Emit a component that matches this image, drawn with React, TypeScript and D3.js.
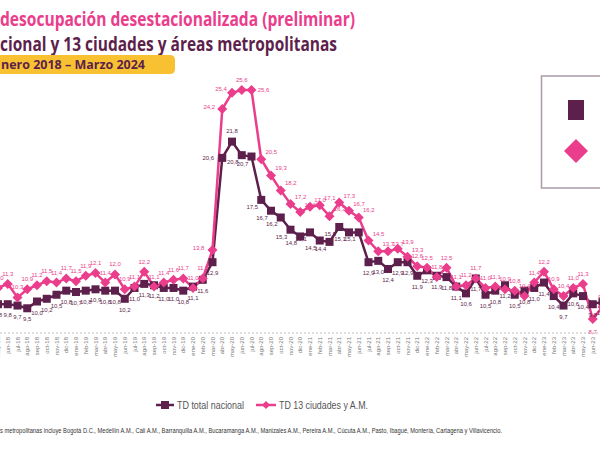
import React from "react";
import * as d3 from "d3";

const MONTHS = ["ene", "feb", "mar", "abr", "may", "jun", "jul", "ago", "sep", "oct", "nov", "dic"];
const YEARS = ["18", "19", "20", "21", "22", "23"];
const categories: string[] = YEARS.flatMap((y) => MONTHS.map((m) => `${m}-${y}`)).slice(2, 67);

// TD total nacional (desde mar-18)
const nacional = [
  9.7, 9.6, 9.8, 9.8, 9.7, 9.5, 10.0, 10.2, 10.5, 10.8,
  10.7, 10.8, 10.9, 10.8, 10.8, 10.2, 11.0, 11.3, 11.2, 11.0,
  11.0, 10.8, 11.1, 11.6, 12.9, 20.6, 21.8, 20.8, 20.7, 17.5,
  16.7, 16.2, 15.3, 14.8, 15.1, 14.5, 14.4, 15.5, 15.1, 15.1,
  12.9, 13.0, 12.4, 12.9, 12.9, 11.9, 12.3, 11.9, 11.8, 11.1,
  10.6, 11.7, 10.5, 10.8, 11.2, 10.5, 10.8, 11.0, 11.4, 10.4,
  9.7, 10.6, 10.4, 9.8, 10.0,
];
// TD 13 ciudades y A.M. (desde mar-18)
const ciudades = [
  10.9, 10.8, 11.0, 11.3, 10.3, 10.9, 11.2, 11.5, 11.4, 11.7,
  11.5, 11.9, 12.1, 11.4, 12.0, 10.9, 11.1, 12.2, 11.1, 11.4,
  11.6, 11.7, 11.0, 11.7, 13.8, 24.2, 25.4, 25.6, 25.6, 20.5,
  19.3, 18.2, 17.2, 16.6, 17.0, 17.1, 16.3, 17.3, 16.7, 16.2,
  14.5, 13.7, 13.7, 13.9, 13.3, 12.6, 12.5, 11.8, 12.5, 11.1,
  11.2, 11.7, 11.0, 11.1, 10.9, 10.8, 10.4, 11.4, 12.2, 10.9,
  10.4, 11.0, 11.3, 8.7, 9.6,
];

const TITLE_1 = "desocupación desestacionalizada (preliminar)";
const TITLE_2 = "cional y 13 ciudades y áreas metropolitanas";
const SUBTITLE = "nero 2018 – Marzo 2024";
const LEGEND = ["TD total nacional", "TD 13 ciudades y A.M."];
const NOTE =
  "s metropolitanas incluye Bogotá D.C., Medellín A.M., Cali A.M., Barranquilla A.M., Bucaramanga A.M., Manizales A.M., Pereira A.M., Cúcuta A.M., Pasto, Ibagué, Montería, Cartagena y Villavicencio.";

const DARK = "#5d1f4b";
const PINK = "#ea3d8c";
const fmt = (v: number) => v.toFixed(1).replace(".", ",");

export default function App() {
  const W = 600;
  const H = 450;
  const x = d3.scalePoint<string>().domain(categories).range([-21.5, 602.5]);
  const y = d3.scaleLinear().domain([0, 30]).range([437, 30.5]);
  const axisY = 333;

  const line = d3
    .line<number>()
    .x((_, i) => x(categories[i]) as number)
    .y((d) => y(d));

  const darkLabel = (i: number) => {
    const idx = i + 2; // month index from ene-18
    if (idx === 27) return { dx: -14, dy: 2 };
    if (idx === 28) return { dx: 0, dy: -9 };
    if (idx >= 29 && idx <= 41) return { dx: -9, dy: 9 };
    return { dx: 0, dy: 13 };
  };
  const pinkLabel = (i: number) => {
    const idx = i + 2;
    if (idx === 26) return { dx: -14, dy: 0 };
    if (idx === 27) return { dx: -13, dy: 0 };
    if (idx === 28) return { dx: -11, dy: -2 };
    if (idx === 29) return { dx: 0, dy: -8 };
    if (idx === 30) return { dx: 12, dy: 2 };
    if (idx >= 31 && idx <= 46) return { dx: 10, dy: -5 };
    if (idx === 65) return { dx: 0, dy: 15 };
    return { dx: 0, dy: -8 };
  };

  return (
    <svg
      width={W}
      height={H}
      style={{ position: "absolute", left: 0, top: 0, background: "#fff" }}
      fontFamily="'Liberation Sans', Arial, sans-serif"
    >
      {/* Titles */}
      <text x={0} y={26} fill={PINK} fontFamily="'Open Sans', sans-serif" fontWeight={700} fontSize={20}
        textLength={355} lengthAdjust="spacingAndGlyphs">{TITLE_1}</text>
      <text x={0} y={51} fill={DARK} fontFamily="'Open Sans', sans-serif" fontWeight={700} fontSize={20}
        textLength={337} lengthAdjust="spacingAndGlyphs">{TITLE_2}</text>
      <path d="M0,55 H170 Q175,55 175,60 V69 Q175,74 170,74 H0 Z" fill="#f8c132" />
      <text x={1} y={69} fill={DARK} fontFamily="'Open Sans', sans-serif" fontWeight={700} fontSize={13}
        textLength={144} lengthAdjust="spacingAndGlyphs">{SUBTITLE}</text>

      {/* Side legend box (cropped) */}
      <rect x={541.5} y={76} width={70} height={112} fill="#fff" stroke="#a99ba6" strokeWidth={1.5} />
      <rect x={568} y={100} width={16} height={20} fill={DARK} />
      <path d="M576,139 L588,151 L576,163 L564,151 Z" fill={PINK} />

      {/* x axis */}
      <line x1={0} x2={W} y1={axisY} y2={axisY} stroke="#bbb" strokeWidth={1} strokeDasharray="2,2" />
      {categories.map((c) => {
        const cx = x(c) as number;
        if (cx < -5 || cx > 605) return null;
        return (
          <text key={c} transform={`translate(${cx + 2},${axisY + 4}) rotate(-90)`} textAnchor="end"
            fontSize={6} fill="#777">{c}</text>
        );
      })}

      {/* Lines */}
      <path d={line(nacional) || ""} fill="none" stroke={DARK} strokeWidth={2.5} />
      <path d={line(ciudades) || ""} fill="none" stroke={PINK} strokeWidth={2.5} />

      {/* Markers */}
      {nacional.map((v, i) => {
        const cx = x(categories[i]) as number;
        return <rect key={"d" + i} x={cx - 4} y={y(v) - 4} width={8} height={8} fill={DARK} />;
      })}
      {ciudades.map((v, i) => {
        const cx = x(categories[i]) as number;
        const cy = y(v);
        return <path key={"p" + i} d={`M${cx},${cy - 5} L${cx + 5},${cy} L${cx},${cy + 5} L${cx - 5},${cy} Z`} fill={PINK} />;
      })}

      {/* Data labels */}
      {nacional.map((v, i) => {
        const cx = x(categories[i]) as number;
        const o = darkLabel(i);
        return (
          <text key={"dl" + i} x={cx + o.dx} y={y(v) + o.dy} textAnchor="middle" fontSize={6}
            fontFamily="'Liberation Sans Narrow', 'Liberation Sans', sans-serif" fill={DARK}>{fmt(v)}</text>
        );
      })}
      {ciudades.map((v, i) => {
        const cx = x(categories[i]) as number;
        const o = pinkLabel(i);
        return (
          <text key={"pl" + i} x={cx + o.dx} y={y(v) + o.dy} textAnchor="middle" fontSize={6}
            fontFamily="'Liberation Sans Narrow', 'Liberation Sans', sans-serif" fill={PINK}>{fmt(v)}</text>
        );
      })}

      {/* Bottom legend */}
      <line x1={156} x2={174} y1={405} y2={405} stroke={DARK} strokeWidth={2.5} />
      <rect x={161} y={401} width={8} height={8} fill={DARK} />
      <text x={177} y={409} fontSize={10.5} fill="#555" textLength={67} lengthAdjust="spacingAndGlyphs">{LEGEND[0]}</text>
      <line x1={256} x2={276} y1={405} y2={405} stroke={PINK} strokeWidth={2.5} />
      <path d="M266,401 L270,405 L266,409 L262,405 Z" fill={PINK} />
      <text x={279} y={409} fontSize={10.5} fill="#555" textLength={89} lengthAdjust="spacingAndGlyphs">{LEGEND[1]}</text>

      {/* Footnote */}
      <text x={0} y={433} fontSize={8} fill="#333" fontFamily="'Liberation Sans Narrow', 'Liberation Sans', sans-serif"
        textLength={502} lengthAdjust="spacingAndGlyphs">{NOTE}</text>
    </svg>
  );
}
